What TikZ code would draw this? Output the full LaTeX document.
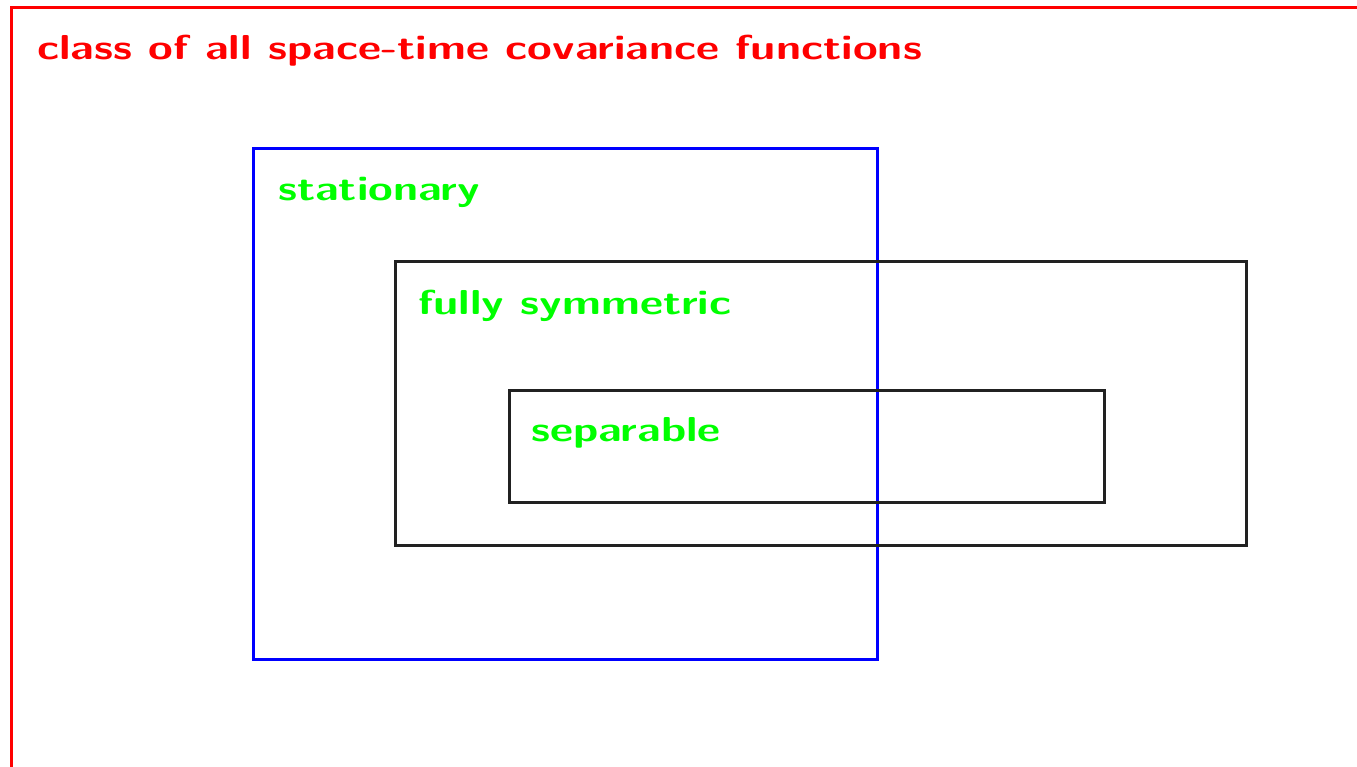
\documentclass[tikz,border=0pt]{standalone}
\usepackage{fontspec}
\begin{document}
\begin{tikzpicture}[x=1pt,y=-1pt,
  setbox/.style={line width=3pt},
  lbl/.style={anchor=base west,inner sep=0pt,font=\fontsize{34.6}{42}\selectfont\sffamily\bfseries},
  dark/.style={setbox,draw=black!87}]
\newcommand{\wide}[1]{\scalebox{1.3}[1]{#1}}
\useasboundingbox (0,0) rectangle (1357,767);
\clip (0,0) rectangle (1357,767);
\draw[setbox,red] (11,8) rectangle (1420,820);
\node[lbl,text=red] (title) at (37,59.5) {\wide{class of all space-time covariance functions}};
\draw[setbox,blue] (253,149) rectangle (877,659);
\node[lbl,text=green] (stat) at (278,201) {\wide{stationary}};
\draw[dark] (395,262) rectangle (1246,545);
\node[lbl,text=green] (full) at (418,314) {\wide{fully symmetric}};
\draw[dark] (509,390) rectangle (1104,502);
\node[lbl,text=green] (sep) at (531,441) {\wide{separable}};
\end{tikzpicture}
\end{document}
